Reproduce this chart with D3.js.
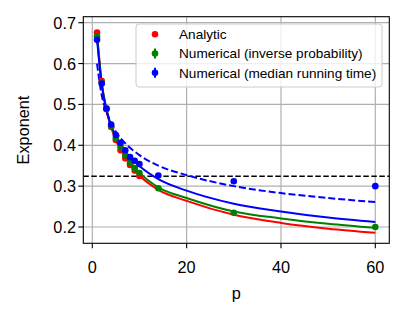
<!DOCTYPE html>
<html>
<head>
<meta charset="utf-8">
<script src="https://cdn.jsdelivr.net/npm/d3@7"></script>
<style>
  body { margin: 0; background: #fff; }
  text { font-family: "Liberation Sans", Arial, sans-serif; }
</style>
</head>
<body>
<div id="container"></div>
<script>
// Values

// p values where the numerical runs were done
const pValues = [1, 2, 3, 4, 5, 6, 7, 8, 9, 10, 14, 30, 60];

// Analytic points (only for the small p)
const analyticP = [1, 2, 3, 4, 5, 6, 7, 8, 9, 10];
const analyticY = [0.676, 0.557, 0.488, 0.445, 0.413, 0.388, 0.368, 0.352, 0.338, 0.325];

// Numerical (inverse probability)
const inverseY = [0.666, 0.553, 0.490, 0.447, 0.418, 0.395, 0.375, 0.357, 0.344, 0.332, 0.295, 0.235, 0.200];
const inverseErr = [0.005, 0.004, 0.003, 0.003, 0.003, 0.003, 0.003, 0.003, 0.003, 0.003, 0.003, 0.003, 0.003];

// Numerical (median running time)
const medianY = [0.658, 0.551, 0.490, 0.451, 0.425, 0.406, 0.388, 0.371, 0.362, 0.354, 0.326, 0.312, 0.300];
const medianErr = [0.008, 0.005, 0.004, 0.004, 0.003, 0.003, 0.003, 0.003, 0.003, 0.003, 0.003, 0.003, 0.003];

// fitted curves, sampled at these p values
const curveP = [1, 2, 3, 5, 7, 10, 14, 20, 30, 40, 50, 60];
const analyticCurve = [0.676, 0.552, 0.485, 0.412, 0.370, 0.326, 0.291, 0.264, 0.230, 0.210, 0.196, 0.186];
const inverseCurve = [0.668, 0.553, 0.489, 0.416, 0.376, 0.333, 0.297, 0.271, 0.238, 0.221, 0.208, 0.198];
const medianCurve = [0.660, 0.547, 0.486, 0.422, 0.385, 0.349, 0.317, 0.289, 0.257, 0.238, 0.223, 0.212];
const medianDashed = [0.600, 0.522, 0.482, 0.433, 0.405, 0.376, 0.350, 0.327, 0.300, 0.283, 0.271, 0.261];

const threshold = 0.324;

const xTicks = [0, 20, 40, 60];
const yTicks = [0.2, 0.3, 0.4, 0.5, 0.6, 0.7];

const legendLabels = ["Analytic", "Numerical (inverse probability)", "Numerical (median running time)"];
const legendColors = ["#ff0000", "#008000", "#0000ff"];

// Layout
const width = 406, height = 318;
const frame = { left: 83.3, right: 389.3, top: 16.7, bottom: 243.3 };

const svg = d3.create("svg")
  .attr("width", width)
  .attr("height", height);
container.append(svg.node());

const x = d3.scaleLinear().domain([0, 60]).range([92.3, 375.3]);
const y = d3.scaleLinear().domain([0.2, 0.7]).range([227, 22.7]);

// grid
const grid = svg.append("g").attr("stroke", "#b0b0b0").attr("stroke-width", 1.2);
grid.selectAll(".gx").data(xTicks).join("line")
  .attr("x1", d => x(d)).attr("x2", d => x(d))
  .attr("y1", frame.top).attr("y2", frame.bottom);
grid.selectAll(".gy").data(yTicks).join("line")
  .attr("y1", d => y(d)).attr("y2", d => y(d))
  .attr("x1", frame.left).attr("x2", frame.right);

// clip for the plot area
svg.append("clipPath").attr("id", "clip")
  .append("rect")
  .attr("x", frame.left).attr("y", frame.top)
  .attr("width", frame.right - frame.left).attr("height", frame.bottom - frame.top);

const plot = svg.append("g").attr("clip-path", "url(#clip)");

// horizontal reference line
plot.append("line")
  .attr("x1", frame.left).attr("x2", frame.right)
  .attr("y1", y(threshold)).attr("y2", y(threshold))
  .attr("stroke", "black").attr("stroke-width", 1.5)
  .attr("stroke-dasharray", "5.5,2.5");

const line = d3.line()
  .x(d => x(d[0]))
  .y(d => y(d[1]))
  .curve(d3.curveMonotoneX);

const zip = (a, b) => a.map((v, i) => [v, b[i]]);

plot.append("path").datum(zip(curveP, analyticCurve))
  .attr("d", line).attr("fill", "none")
  .attr("stroke", "#ff0000").attr("stroke-width", 2);
plot.append("path").datum(zip(curveP, inverseCurve))
  .attr("d", line).attr("fill", "none")
  .attr("stroke", "#008000").attr("stroke-width", 2);
plot.append("path").datum(zip(curveP, medianCurve))
  .attr("d", line).attr("fill", "none")
  .attr("stroke", "#0000ff").attr("stroke-width", 2);
plot.append("path").datum(zip(curveP, medianDashed))
  .attr("d", line).attr("fill", "none")
  .attr("stroke", "#0000ff").attr("stroke-width", 2)
  .attr("stroke-dasharray", "7,3");

// analytic points
plot.selectAll(".a").data(zip(analyticP, analyticY)).join("circle")
  .attr("class", "a")
  .attr("cx", d => x(d[0])).attr("cy", d => y(d[1]))
  .attr("r", 3.3).attr("fill", "#ff0000");

// errorbar series
const drawErr = function (cls, ys, errs, color) {
  const data = pValues.map((p, i) => [p, ys[i], errs[i]]);
  plot.selectAll("." + cls + "e").data(data).join("line")
    .attr("class", cls + "e")
    .attr("x1", d => x(d[0])).attr("x2", d => x(d[0]))
    .attr("y1", d => y(d[1] - d[2])).attr("y2", d => y(d[1] + d[2]))
    .attr("stroke", color).attr("stroke-width", 2);
  plot.selectAll("." + cls).data(data).join("circle")
    .attr("class", cls)
    .attr("cx", d => x(d[0])).attr("cy", d => y(d[1]))
    .attr("r", 3.3).attr("fill", color);
}
drawErr("g", inverseY, inverseErr, "#008000");
drawErr("b", medianY, medianErr, "#0000ff");

// frame
svg.append("rect")
  .attr("x", frame.left).attr("y", frame.top)
  .attr("width", frame.right - frame.left).attr("height", frame.bottom - frame.top)
  .attr("fill", "none").attr("stroke", "black").attr("stroke-width", 1.1);

// ticks and labels
const ax = svg.append("g");
ax.selectAll(".xt").data(xTicks).join("line")
  .attr("x1", d => x(d)).attr("x2", d => x(d))
  .attr("y1", frame.bottom).attr("y2", frame.bottom + 5)
  .attr("stroke", "black").attr("stroke-width", 1.1);
ax.selectAll(".xl").data(xTicks).join("text")
  .attr("x", d => x(d)).attr("y", 273.3)
  .attr("text-anchor", "middle").attr("font-size", 16.3)
  .text(d => d);
ax.selectAll(".yt").data(yTicks).join("line")
  .attr("y1", d => y(d)).attr("y2", d => y(d))
  .attr("x1", frame.left - 5).attr("x2", frame.left)
  .attr("stroke", "black").attr("stroke-width", 1.1);
ax.selectAll(".yl").data(yTicks).join("text")
  .attr("x", 76).attr("y", d => y(d) + 6)
  .attr("text-anchor", "end").attr("font-size", 16.3)
  .text(d => d.toFixed(1));

svg.append("text")
  .attr("x", (frame.left + frame.right) / 2).attr("y", 299)
  .attr("text-anchor", "middle").attr("font-size", 16.3)
  .text("p");
svg.append("text")
  .attr("transform", `translate(29,${(frame.top + frame.bottom) / 2}) rotate(-90)`)
  .attr("text-anchor", "middle").attr("font-size", 16.3)
  .text("Exponent");

// legend
const legend = svg.append("g");
legend.append("rect")
  .attr("x", 136).attr("y", 24).attr("width", 246).attr("height", 63)
  .attr("rx", 3)
  .attr("fill", "white").attr("fill-opacity", 0.8)
  .attr("stroke", "#cccccc").attr("stroke-width", 1);
const rows = legend.selectAll(".lr").data(legendLabels).join("g")
  .attr("transform", (d, i) => `translate(0,${34.3 + i * 19.2})`);
rows.filter((d, i) => i > 0).append("line")
  .attr("x1", 155).attr("x2", 155).attr("y1", -5).attr("y2", 5)
  .attr("stroke", (d, i) => legendColors[i + 1]).attr("stroke-width", 2);
rows.append("circle")
  .attr("cx", 155).attr("cy", 0).attr("r", 3.3)
  .attr("fill", (d, i) => legendColors[i]);
rows.append("text")
  .attr("x", 179).attr("y", 4.8)
  .attr("font-size", 13.6)
  .text(d => d);
</script>
</body>
</html>
